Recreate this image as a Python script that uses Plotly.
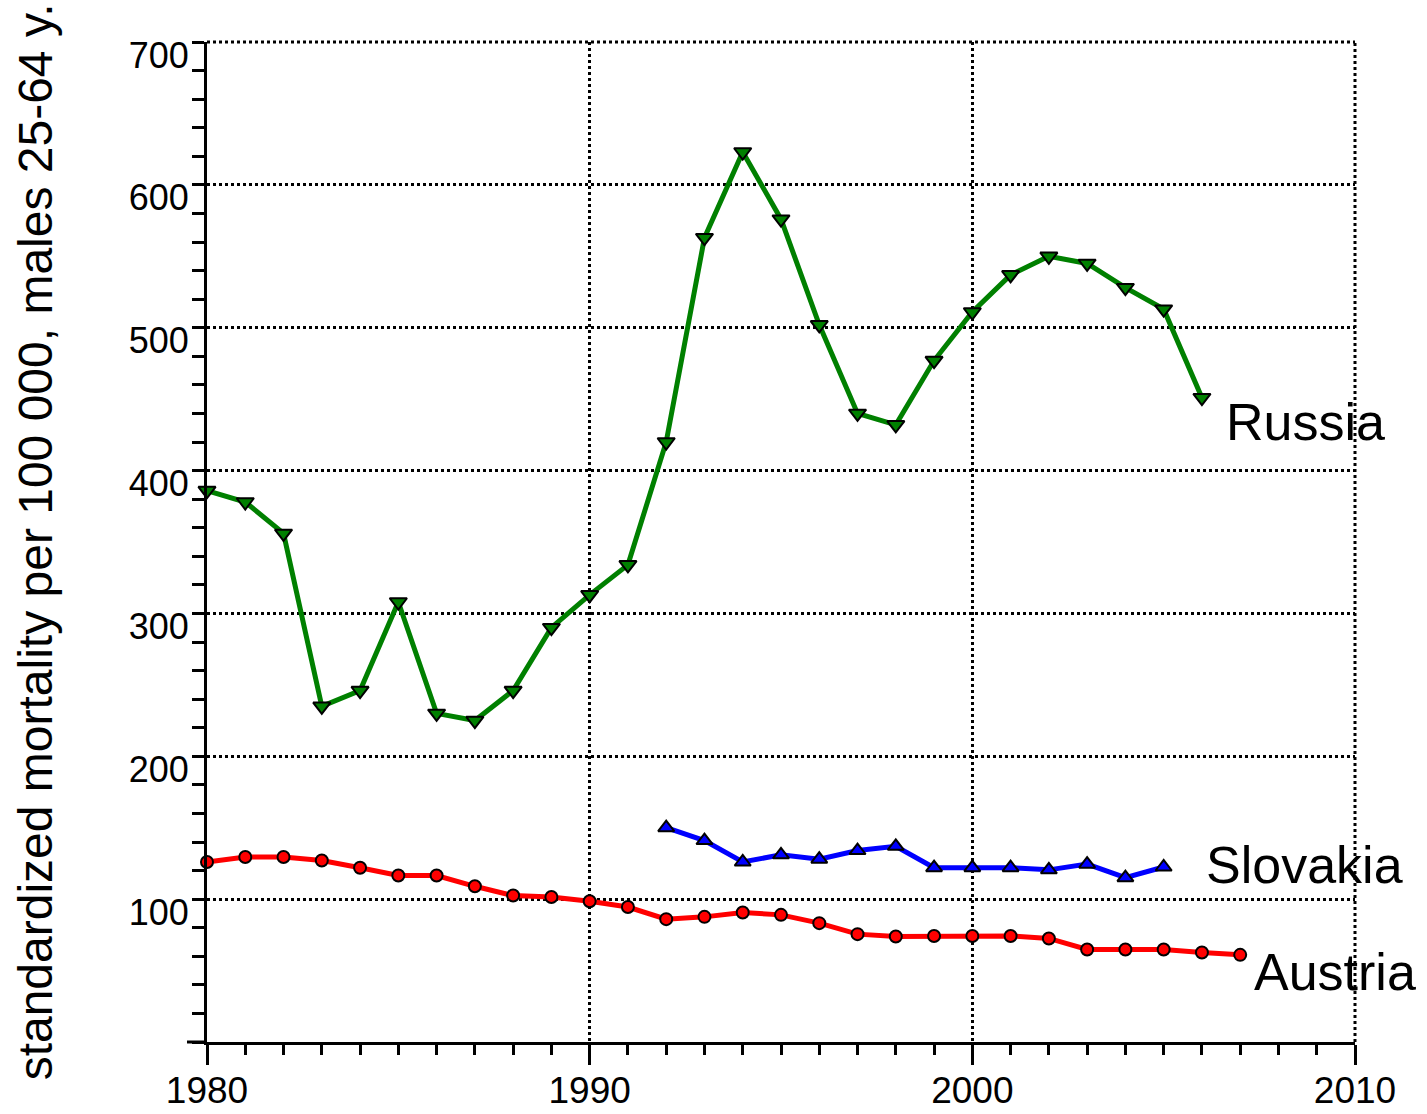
import plotly.graph_objects as go

years_russia = list(range(1980, 2007))
russia = [386, 378, 356, 235, 246, 308, 230, 225, 246, 290, 313, 334, 420,
          563, 623, 576, 502, 440, 432, 477, 511, 537, 550, 545, 528, 513, 451]

years_slovakia = list(range(1992, 2006))
slovakia = [150, 141, 126, 131, 128, 134, 137, 122, 122, 122, 120.5, 124.5, 115, 122.5]

years_austria = list(range(1980, 2008))
austria = [126, 129.5, 129.5, 127, 122, 116.5, 116.5, 109, 102.5, 101.5, 98.5, 94.5,
           86, 87.6, 90.7, 89, 83.2, 75.5, 73.8, 74.2, 74.2, 74.2, 72.5, 64.8, 64.8,
           64.8, 62.7, 61]

series_labels = ["Russia", "Slovakia", "Austria"]
label_x = [2006.58, 2006.05, 2007.3]
label_y = [434, 124, 49]

y_tickvals = [100, 200, 300, 400, 500, 600, 700]
x_tickvals = [1980, 1990, 2000, 2010]
y_title = "standardized mortality per 100 000, males 25-64 y."

FONT = "Liberation Sans, Arial, sans-serif"

fig = go.Figure()
fig.add_trace(go.Scatter(
    x=years_russia, y=russia, mode="lines+markers",
    line=dict(color="#008000", width=5),
    marker=dict(symbol="triangle-down", size=15, color="#008000",
                line=dict(color="black", width=2)),
    cliponaxis=False, showlegend=False, hoverinfo="skip"))
fig.add_trace(go.Scatter(
    x=years_slovakia, y=slovakia, mode="lines+markers",
    line=dict(color="#0000ff", width=5),
    marker=dict(symbol="triangle-up", size=14, color="#0000ff",
                line=dict(color="black", width=2)),
    cliponaxis=False, showlegend=False, hoverinfo="skip"))
fig.add_trace(go.Scatter(
    x=years_austria, y=austria, mode="lines+markers",
    line=dict(color="#ff0000", width=5),
    marker=dict(symbol="circle", size=12, color="#ff0000",
                line=dict(color="black", width=2)),
    cliponaxis=False, showlegend=False, hoverinfo="skip"))

for name, lx, ly in zip(series_labels, label_x, label_y):
    fig.add_annotation(x=lx, y=ly, xref="x", yref="y", text=name,
                       showarrow=False, xanchor="left", yanchor="middle",
                       font=dict(family=FONT, size=52, color="black"))

fig.add_annotation(x=-0.1495, y=0.5, xref="paper", yref="paper", text=y_title,
                   textangle=-90, showarrow=False, xanchor="center", yanchor="middle",
                   font=dict(family=FONT, size=48, color="black"))

# stub of the x-axis line to the left of the y axis
fig.add_shape(type="line", xref="paper", yref="paper", x0=-0.0174, x1=0, y0=0, y1=0,
              line=dict(color="black", width=3))
# dotted frame on the top and right edges
fig.add_shape(type="line", xref="paper", yref="paper", x0=0, x1=1, y0=1, y1=1,
              line=dict(color="black", width=3, dash="dot"), layer="below")
fig.add_shape(type="line", xref="paper", yref="paper", x0=1, x1=1, y0=0, y1=1,
              line=dict(color="black", width=3, dash="dot"), layer="below")

fig.update_xaxes(
    range=[1980, 2010], tickvals=x_tickvals, ticktext=[str(v) for v in x_tickvals],
    ticks="outside", ticklen=20, tickwidth=3, tickcolor="black",
    minor=dict(dtick=1, tick0=1980, ticks="outside", ticklen=10, tickwidth=3,
               tickcolor="black", showgrid=False),
    showline=True, linecolor="black", linewidth=3,
    showgrid=True, gridcolor="black", griddash="dot", gridwidth=3,
    zeroline=False, tickfont=dict(family=FONT, size=37, color="black"),
    ticklabelstandoff=-6,
    automargin=False,
)
fig.update_yaxes(
    range=[0, 700], tickvals=y_tickvals, ticktext=[str(v) for v in y_tickvals],
    ticks="outside", ticklen=12, tickwidth=3, tickcolor="black",
    minor=dict(dtick=20, tick0=0, ticks="outside", ticklen=12, tickwidth=3,
               tickcolor="black", showgrid=False),
    showline=True, linecolor="black", linewidth=3,
    showgrid=True, gridcolor="black", griddash="dot", gridwidth=3,
    zeroline=False, tickfont=dict(family=FONT, size=36, color="black"),
    ticklabelshift=13, ticklabelstandoff=-4,
    automargin=False,
)

fig.update_layout(
    width=1427, height=1114,
    margin=dict(l=207, r=72, t=42, b=72),
    plot_bgcolor="white", paper_bgcolor="white",
    font=dict(family=FONT, color="black"),
    hovermode=False,
)

fig.write_html("out.html", config={"displayModeBar": False},
               post_script="document.body.style.margin='0';document.body.style.overflow='hidden';")
